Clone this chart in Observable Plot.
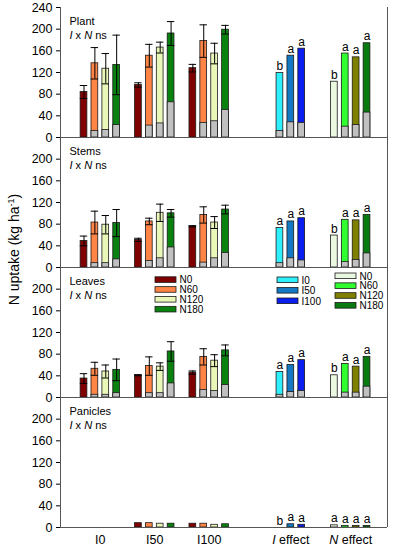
<!DOCTYPE html>
<html><head><meta charset="utf-8">
<script src="https://cdn.jsdelivr.net/npm/d3@7"></script>
<script src="https://cdn.jsdelivr.net/npm/@observablehq/plot@0.6"></script>
<style>body{margin:0;background:#fff}</style>
</head><body><div id="chart"></div>
<script>
// ---------- data ----------
const panels = ["Plant", "Stems", "Leaves", "Panicles"];
const groups = ["I0", "I50", "I100"];
const nRates = ["N0", "N60", "N120", "N180"];
const iLevels = ["I0", "I50", "I100"];
const xLabels = ["I0", "I50", "I100", "I effect", "N effect"];
const yTicks = [0, 40, 80, 120, 160, 200, 240];

// treatment bars: order I0(N0,N60,N120,N180), I50(...), I100(...)
const plantTotal = [84, 137, 127, 134, 97, 151, 166, 192, 128, 178, 155, 199];
const plantGray  = [0, 12, 14, 23, 0, 22, 26, 65, 0, 27, 30, 51];
const plantErr   = [12, 29, 28, 55, 4, 21, 10, 22, 7, 30, 19, 8];
const plantIEff = [119, 151, 164];
const plantIEffGray = [12, 28, 27];
const plantIEffLet = ["b", "a", "a"];
const plantNEff = [103, 155, 148, 174];
const plantNEffGray = [0, 20, 23, 46];
const plantNEffLet = ["b", "a", "a", "a"];

const stemsTotal = [49, 83, 79, 82, 51, 85, 101, 100, 76, 97, 83, 107];
const stemsGray  = [0, 8, 8, 15, 0, 12, 17, 37, 0, 9, 17, 27];
const stemsErr   = [9, 21, 17, 25, 3, 6, 16, 7, 1, 15, 11, 8];
const stemsIEff = [73, 85, 91];
const stemsIEffGray = [8, 17, 13];
const stemsIEffLet = ["a", "a", "a"];
const stemsNEff = [59, 88, 87, 97];
const stemsNEffGray = [0, 10, 14, 26];
const stemsNEffLet = ["b", "a", "a", "a"];

const leavesTotal = [35, 53, 48, 51, 41, 58, 57, 85, 46, 75, 68, 87];
const leavesGray  = [0, 5, 5, 8, 0, 8, 8, 26, 0, 14, 12, 23];
const leavesErr   = [9, 12, 12, 20, 1, 17, 7, 18, 3, 15, 11, 10];
const leavesIEff = [47, 60, 69];
const leavesIEffGray = [5, 10, 12];
const leavesIEffLet = ["a", "a", "a"];
const leavesNEff = [41, 62, 57, 75];
const leavesNEffGray = [0, 9, 9, 20];
const leavesNEffLet = ["b", "a", "a", "a"];

const paniclesTotal = [0, 0, 0, 0, 8, 8, 7, 7, 7, 7, 5, 6];
const paniclesGray  = [0, 0, 0, 0, 0, 0, 0, 0, 0, 0, 0, 0];
const paniclesErr   = [0, 0, 0, 0, 0, 0, 0, 0, 0, 0, 0, 0];
const paniclesIEff = [0, 6, 5];
const paniclesIEffGray = [0, 0, 0];
const paniclesIEffLet = ["b", "a", "a"];
const paniclesNEff = [4, 3, 3, 3];
const paniclesNEffGray = [0, 0, 0, 0];
const paniclesNEffLet = ["a", "a", "a", "a"];

// ---------- styles ----------
const treatColors = ["#800000", "#FF8547", "#E9F7B9", "#0A820F"];
const iColors = ["#2EF0FA", "#1478C3", "#0A1EF0"];
const nEffColors = ["#EAF8E2", "#30FF30", "#808000", "#087A10"];
const grayFill = "#C0C0C0";

// ---------- layout helpers ----------
const W = 394, H = 550, ML = 60, MR = 7, MT = 7, MB = 23;
const XMIN = -2.159, XMAX = 27.882;
const SLOT_PX = (W - ML - MR) / (XMAX - XMIN);
const FACET_H = (H - MT - MB) / panels.length;
const px2x = px => XMIN + (px - ML) / SLOT_PX;
const px2y = (px, facetIdx) => (MT + FACET_H * (facetIdx + 1) - px) * 240 / FACET_H;
const BW = 0.31, CW = 0.34;

const sets = {
  Plant: [plantTotal, plantGray, plantErr, plantIEff, plantIEffGray, plantIEffLet, plantNEff, plantNEffGray, plantNEffLet],
  Stems: [stemsTotal, stemsGray, stemsErr, stemsIEff, stemsIEffGray, stemsIEffLet, stemsNEff, stemsNEffGray, stemsNEffLet],
  Leaves: [leavesTotal, leavesGray, leavesErr, leavesIEff, leavesIEffGray, leavesIEffLet, leavesNEff, leavesNEffGray, leavesNEffLet],
  Panicles: [paniclesTotal, paniclesGray, paniclesErr, paniclesIEff, paniclesIEffGray, paniclesIEffLet, paniclesNEff, paniclesNEffGray, paniclesNEffLet]
};
const bars = [];
panels.forEach(p => {
  const [tot, gr, er, it, ig, il, nt, ng, nl] = sets[p];
  tot.forEach((v, k) => {
    const g = Math.floor(k / nRates.length), n = k % nRates.length;
    bars.push({panel: p, slot: g * 5 + n, total: v, gray: gr[k], err: er[k], fill: treatColors[n], letter: null});
  });
  it.forEach((v, i) => bars.push({panel: p, slot: 18 + i, total: v, gray: ig[i], err: 0, fill: iColors[i], letter: il[i]}));
  nt.forEach((v, i) => bars.push({panel: p, slot: 23 + i, total: v, gray: ng[i], err: 0, fill: nEffColors[i], letter: nl[i]}));
});
const errBars = bars.filter(d => d.err > 0);
const groupCenters = [1.5, 6.5, 11.5, 19, 24.5];

// legends (in Leaves facet)
const leavesIdx = panels.indexOf("Leaves");
const leg = [];
nRates.forEach((n, i) => leg.push({label: n, fill: treatColors[i], x1: 155, x2: 176, tx: 179, cy: 279.6 + 9.85 * i}));
iLevels.forEach((n, i) => leg.push({label: n, fill: iColors[i], x1: 277, x2: 298, tx: 301, cy: 279.8 + 10.5 * i}));
nRates.forEach((n, i) => leg.push({label: n, fill: nEffColors[i], x1: 335, x2: 356, tx: 359, cy: 275.8 + 9.85 * i}));
leg.forEach(d => { d.panel = "Leaves"; });

const chart = Plot.plot({
  width: W, height: H,
  marginLeft: ML, marginRight: MR, marginTop: MT, marginBottom: MB,
  style: {fontFamily: "'Liberation Sans', Arial, sans-serif", fontSize: "12.5px", color: "#000", background: "#fff"},
  x: {domain: [XMIN, XMAX], axis: null},
  y: {domain: [0, 240], ticks: yTicks.filter(t => t < 240), tickSize: 4, tickPadding: 4, label: null},
  fy: {domain: panels, axis: null, padding: 0},
  color: {type: "identity"},
  marks: [
    Plot.rect(bars.filter(d => d.total > 0), {fy: "panel", x1: d => d.slot - BW, x2: d => d.slot + BW, y1: 0, y2: "total", fill: "fill", stroke: "#1a1a1a", strokeWidth: 0.8}),
    Plot.rect(bars.filter(d => d.gray > 0), {fy: "panel", x1: d => d.slot - BW, x2: d => d.slot + BW, y1: 0, y2: "gray", fill: grayFill, stroke: "#1a1a1a", strokeWidth: 0.8}),
    Plot.ruleX(errBars, {fy: "panel", x: "slot", y1: d => d.total - d.err, y2: d => d.total + d.err, stroke: "#000", strokeWidth: 1}),
    Plot.ruleY(errBars, {fy: "panel", y: d => d.total + d.err, x1: d => d.slot - CW, x2: d => d.slot + CW, stroke: "#000", strokeWidth: 1}),
    Plot.ruleY(errBars, {fy: "panel", y: d => d.total - d.err, x1: d => d.slot - CW, x2: d => d.slot + CW, stroke: "#000", strokeWidth: 1}),
    Plot.text(bars.filter(d => d.letter), {fy: "panel", x: "slot", y: "total", text: "letter", dy: -3, lineAnchor: "bottom", fontSize: 12}),
    // legends
    Plot.rect(leg, {fy: "panel", x1: d => px2x(d.x1), x2: d => px2x(d.x2), y1: d => px2y(d.cy - 2.8, leavesIdx), y2: d => px2y(d.cy + 2.8, leavesIdx), fill: "fill", stroke: "#1a1a1a", strokeWidth: 0.8}),
    Plot.text(leg, {fy: "panel", x: d => px2x(d.tx), y: d => px2y(d.cy, leavesIdx), text: "label", textAnchor: "start", lineAnchor: "middle", fontSize: 10}),
    // panel labels
    Plot.text(panels, {fy: d => d, text: d => d, frameAnchor: "top-left", dx: 9, dy: 14, textAnchor: "start", lineAnchor: "middle", fontSize: 11}),
    Plot.text(panels, {fy: d => d, text: d => "I x N ns", frameAnchor: "top-left", dx: 9, dy: 28, textAnchor: "start", lineAnchor: "middle", fontSize: 11}),
    // top tick label of first panel
    Plot.text([240], {fy: d => panels[0], y: d => d, x: XMIN, text: d => String(d), dx: -8, textAnchor: "end", lineAnchor: "middle"}),
    Plot.ruleY([240], {fy: d => panels[0], y: d => d, x1: XMIN - 4 / SLOT_PX, x2: XMIN, stroke: "#000"}),
    // group labels
    Plot.text(xLabels, {fy: d => panels[panels.length - 1], x: (d, i) => groupCenters[i], y: 0, text: d => d, dy: 12, lineAnchor: "middle", fontSize: 12.5}),
    // y title
    Plot.text(["N uptake (kg ha-1)"], {fy: d => "Leaves", x: XMIN, y: 240, text: d => d, dx: 14 - ML, dy: -18, rotate: -90, fontSize: 14, lineAnchor: "middle"}),
    // frame
    Plot.ruleX([XMIN, XMAX], {stroke: "#555", strokeWidth: 1}),
    Plot.ruleY([0], {stroke: "#555", strokeWidth: 1})
  ]
});
document.getElementById("chart").appendChild(chart);

// italic / superscript formatting
d3.select(chart).selectAll("text").each(function() {
  const t = this.textContent;
  if (t === "I x N ns") this.innerHTML = '<tspan font-style="italic">I</tspan> x <tspan font-style="italic">N</tspan> ns';
  else if (t === "I effect") this.innerHTML = '<tspan font-style="italic">I</tspan> effect';
  else if (t === "N effect") this.innerHTML = '<tspan font-style="italic">N</tspan> effect';
  else if (t === "N uptake (kg ha-1)") this.innerHTML = 'N uptake (kg ha<tspan baseline-shift="super" font-size="9">-1</tspan>)';
});
</script>
</body></html>
